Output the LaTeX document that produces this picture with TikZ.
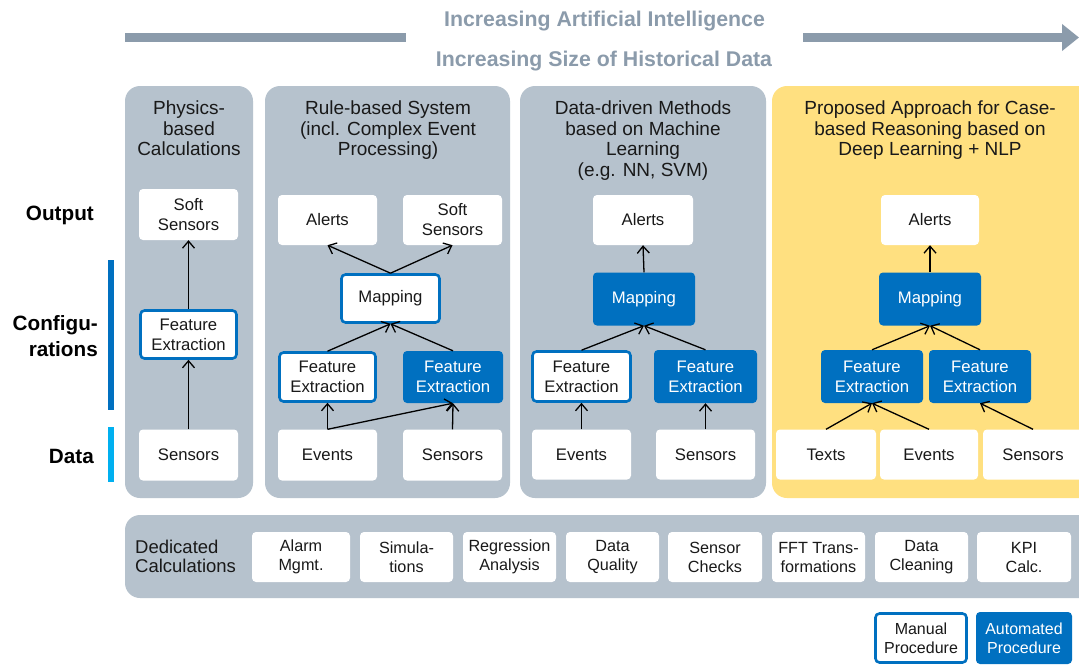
\documentclass[tikz,border=0pt]{standalone}
\usepackage{fontspec}
\setmainfont{Liberation Sans}
\usetikzlibrary{arrows.meta}
\definecolor{panelgray}{RGB}{182,194,205}
\definecolor{paneyellow}{RGB}{255,224,128}
\definecolor{bluebox}{RGB}{0,112,192}
\definecolor{lightblue}{RGB}{0,176,240}
\definecolor{headgray}{RGB}{139,155,171}
\definecolor{txt}{RGB}{25,25,25}
\begin{document}
\begin{tikzpicture}[x=1pt,y=-1pt,
  panel/.style={fill=panelgray, rounded corners=15pt},
  ptitle/.style={anchor=north, inner sep=0pt, align=center, text=txt, font=\fontsize{19}{20.5}\selectfont},
  box/.style={fill=white, rounded corners=4pt, inner sep=0pt, align=center, text=txt,
     font=\fontsize{16.7}{20}\selectfont, minimum width=99pt, minimum height=50pt},
  man/.style={box, draw=bluebox, line width=2.6pt, minimum width=96pt, minimum height=48pt},
  aut/.style={box, fill=bluebox, text=white},
  cbox/.style={box, font=\fontsize{16.2}{19}\selectfont, minimum width=93pt, minimum height=50pt},
  side/.style={anchor=east, inner sep=0pt, align=right, text=black, font=\fontsize{20.7}{26}\selectfont\bfseries},
  hdr/.style={inner sep=0pt, text=headgray, font=\fontsize{21.3}{24}\selectfont\bfseries},
  bar/.style={draw=headgray, line width=8.5pt},
  arr/.style={draw=black, line width=1.3pt, -{Straight Barb[length=7pt,width=12pt,line width=1.3pt]}}
]
\useasboundingbox (0,0) rectangle (1079,665);
\fill[white] (0,0) rectangle (1079,665);

% header
\node[hdr] (hai) at (604.5,21) {Increasing Artificial Intelligence};
\node[hdr] (hsd) at (604,61) {Increasing Size of Historical Data};
\coordinate (barA) at (125,37.5);
\coordinate (barB) at (406,37.5);
\coordinate (barC) at (803,37.5);
\coordinate (barD) at (1079,37.5);
\draw[bar] (barA) -- (barB);
\draw[bar, -{Triangle[length=17pt,width=26pt]}] (barC) -- (barD);

% left labels
\node[side] (lout) at (94,215) {Output};
\node[side] (lconf) at (98,336) {Configu-\\rations};
\node[side] (ldata) at (94,456) {Data};
\draw[bluebox, line width=6pt] (111,260) -- (111,410);
\draw[lightblue, line width=6pt] (111,427) -- (111,482);

% panels
\fill[panel] (125,86) rectangle (253,498);
\fill[panel] (265,86) rectangle (510,498);
\fill[panel] (520,86) rectangle (766,498);
\fill[panel, fill=paneyellow] (772,86) rectangle (1100,498);

\node[ptitle] (t1) at (189,101) {Physics-\\based\\Calculations};
\node[ptitle] (t2) at (388,101) {Rule-based System\\(incl. Complex Event\\Processing)};
\node[ptitle] (t3) at (643,101) {Data-driven Methods\\based on Machine\\Learning\\(e.g. NN, SVM)};
\node[ptitle] (t4) at (930,101) {Proposed Approach for Case-\\based Reasoning based on\\Deep Learning + NLP};

% panel 1
\node[box, minimum height=51pt] (p1soft) at (188.5,214.5) {Soft\\Sensors};
\node[man] (p1fe) at (188.5,334.5) {Feature\\Extraction};
\node[box, minimum height=51pt] (p1sen) at (188.5,455) {Sensors};
\draw[arr] (p1sen) -- (p1fe);
\draw[arr] (p1fe) -- (p1soft);

% panel 2
\node[box] (p2al) at (327.5,220) {Alerts};
\node[box] (p2soft) at (452.5,220) {Soft\\Sensors};
\node[man, minimum width=98pt] (p2map) at (390.5,298.5) {Mapping};
\node[man, minimum height=49pt] (p2fem) at (327.5,377) {Feature\\Extraction};
\node[aut, minimum width=100pt, minimum height=52pt] (p2fea) at (453,377) {Feature\\Extraction};
\node[box, minimum height=51pt] (p2ev) at (327.5,455) {Events};
\node[box, minimum height=51pt] (p2sen) at (452.5,455) {Sensors};
\draw[arr] (p2map.north) -- (p2al.south);
\draw[arr] (p2map.north) -- (p2soft.south);
\draw[arr] (p2fem.north) -- (p2map.south);
\draw[arr] (p2fea.north) -- (p2map.south);
\draw[arr] (p2ev.north) -- (p2fem.south);
\draw[arr] (p2ev.north) -- (p2fea.south);
\draw[arr] (p2sen.north) -- (p2fea.south);

% panel 3
\node[box, minimum width=100pt] (p3al) at (643,220) {Alerts};
\node[aut, minimum width=102pt, minimum height=53pt] (p3map) at (644,299) {Mapping};
\node[man, minimum width=98pt, minimum height=50pt] (p3fem) at (581.5,376.5) {Feature\\Extraction};
\node[aut, minimum width=103pt, minimum height=53pt] (p3fea) at (705.5,376.5) {Feature\\Extraction};
\node[box] (p3ev) at (581.5,454.5) {Events};
\node[box] (p3sen) at (705.5,454.5) {Sensors};
\draw[arr] (p3map.north) -- (p3al.south);
\draw[arr] (p3fem.north) -- (p3map.south);
\draw[arr] (p3fea.north) -- (p3map.south);
\draw[arr] (p3ev.north) -- (p3fem.south);
\draw[arr] (p3sen.north) -- (p3fea.south);

% panel 4
\node[box, minimum width=98pt] (p4al) at (930,220) {Alerts};
\node[aut, minimum width=102pt, minimum height=53pt] (p4map) at (930,299) {Mapping};
\node[aut, minimum width=102pt, minimum height=53pt] (p4fe1) at (872,376.5) {Feature\\Extraction};
\node[aut, minimum width=102pt, minimum height=53pt] (p4fe2) at (980,376.5) {Feature\\Extraction};
\node[box, minimum width=100pt] (p4tx) at (826,454.5) {Texts};
\node[box, minimum width=98pt] (p4ev) at (929,454.5) {Events};
\node[box, minimum width=100pt] (p4sen) at (1033,454.5) {Sensors};
\draw[arr] (p4map.north) -- (p4al.south);
\draw[arr] (p4fe1.north) -- (p4map.south);
\draw[arr] (p4fe2.north) -- (p4map.south);
\draw[arr] (p4tx.north) -- (p4fe1.south);
\draw[arr] (p4ev.north) -- (p4fe1.south);
\draw[arr] (p4sen.north) -- (p4fe2.south);

% dedicated calculations band
\fill[panel] (125,515) rectangle (1100,598);
\node[anchor=west, inner sep=0pt, align=left, text=txt, font=\fontsize{18.5}{19}\selectfont] (dc) at (135,556) {Dedicated\\Calculations};
\node[cbox, minimum width=98pt] (c1) at (301,557) {Alarm\\Mgmt.};
\node[cbox] (c2) at (406.5,557) {Simula-\\tions};
\node[cbox] (c3) at (509.5,557) {Regression\\Analysis};
\node[cbox] (c4) at (612.5,557) {Data\\Quality};
\node[cbox, minimum width=94pt] (c5) at (715,557) {Sensor\\Checks};
\node[cbox] (c6) at (818.5,557) {FFT Trans-\\formations};
\node[cbox] (c7) at (921.5,557) {Data\\Cleaning};
\node[cbox, minimum width=94pt] (c8) at (1024,557) {KPI\\Calc.};

% legend
\node[man, font=\fontsize{16}{19}\selectfont, minimum width=91pt, minimum height=49pt] (lgm) at (921,638) {Manual\\Procedure};
\node[aut, font=\fontsize{16}{19}\selectfont, minimum width=96pt, minimum height=52pt] (lga) at (1024,638) {Automated\\Procedure};
\end{tikzpicture}
\end{document}
